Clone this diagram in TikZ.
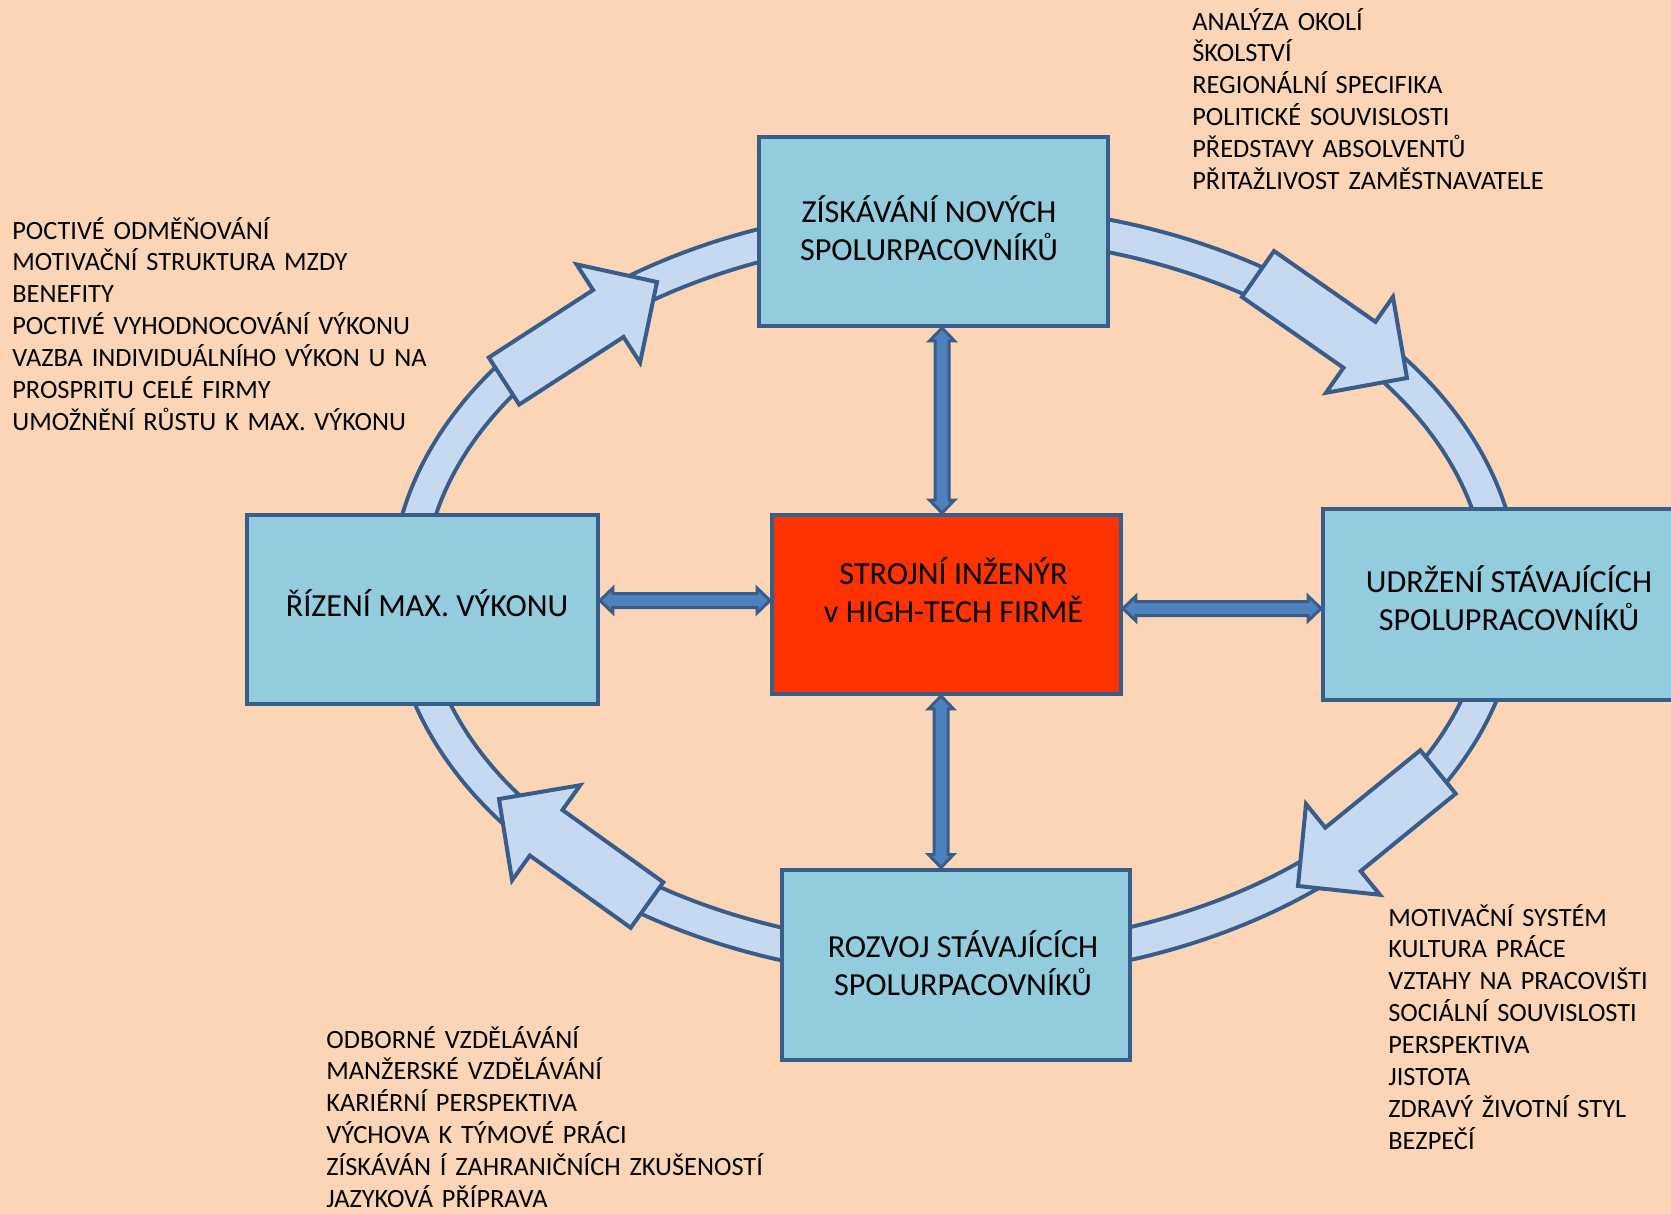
\documentclass[tikz,border=0pt]{standalone}
\usepackage{fontspec}
\setmainfont{Carlito}
\usetikzlibrary{calc}

\definecolor{pagebg}{HTML}{FBD5B5}
\definecolor{boxfill}{HTML}{93CDDD}
\definecolor{boxline}{HTML}{385D8A}
\definecolor{corered}{HTML}{FF3300}
\definecolor{ringfill}{HTML}{C6D9F1}
\definecolor{linkfill}{HTML}{4F81BD}

\newcommand{\boxfont}{\fontsize{18.3}{21.5}\selectfont}
\newcommand{\listfont}{\fontsize{15}{18.2}\selectfont}

% block arrow on the ring: tail centre #1, tip #2
\newcommand{\bigarrow}[2]{%
\filldraw[ringarrow] ($(#1)!0.56cm!90:(#2)$) -- ($(#2)!1.16cm!(#1)!0.56cm!-90:(#1)$)
  -- ($(#2)!1.16cm!(#1)!1.17cm!-90:(#1)$) -- (#2)
  -- ($(#2)!1.16cm!(#1)!1.17cm!90:(#1)$) -- ($(#2)!1.16cm!(#1)!0.56cm!90:(#1)$)
  -- ($(#1)!0.56cm!-90:(#2)$) -- cycle;}

% double headed link between two boxes
\newcommand{\linkarrow}[2]{%
\filldraw[link] (#1) -- ($(#1)!0.26cm!(#2)!0.25cm!90:(#2)$) -- ($(#1)!0.26cm!(#2)!0.14cm!90:(#2)$)
  -- ($(#2)!0.26cm!(#1)!0.14cm!-90:(#1)$) -- ($(#2)!0.26cm!(#1)!0.25cm!-90:(#1)$) -- (#2)
  -- ($(#2)!0.26cm!(#1)!0.25cm!90:(#1)$) -- ($(#2)!0.26cm!(#1)!0.14cm!90:(#1)$)
  -- ($(#1)!0.26cm!(#2)!0.14cm!-90:(#2)$) -- ($(#1)!0.26cm!(#2)!0.25cm!-90:(#2)$) -- cycle;}

\tikzset{
  box/.style={draw=boxline, line width=0.08cm, fill=boxfill, minimum width=6.98cm,
    minimum height=3.8cm, inner sep=0pt},
  corebox/.style={box, fill=corered, minimum height=3.58cm},
  boxtext/.style={align=center, inner sep=0pt, font=\boxfont},
  listtext/.style={anchor=base west, align=left, text width=9.5cm, inner sep=0pt, font=\listfont},
  ringarrow/.style={draw=boxline, fill=ringfill, line width=0.08cm, line join=miter},
  link/.style={draw=boxline, fill=linkfill, line width=0.06cm, line join=miter},
}

\begin{document}
\begin{tikzpicture}[x=0.02cm, y=-0.02cm]
\fill[pagebg] (0,0) rectangle (1671,1214);
\useasboundingbox (0,0) rectangle (1671,1214);

% ring
\draw[boxline, line width=0.72cm] (955,592) ellipse [x radius=10.96cm, y radius=7.42cm];
\draw[ringfill, line width=0.56cm] (955,592) ellipse [x radius=10.96cm, y radius=7.42cm];

\coordinate (r1) at (1258,274); \coordinate (r1t) at (1407,378);
\coordinate (r2) at (1438,772); \coordinate (r2t) at (1298,886);
\coordinate (r3) at (647,905);  \coordinate (r3t) at (499,799);
\coordinate (r4) at (504,381);  \coordinate (r4t) at (657,282);
\bigarrow{r1}{r1t}
\bigarrow{r2}{r2t}
\bigarrow{r3}{r3t}
\bigarrow{r4}{r4t}

% boxes
\node[box, minimum height=3.78cm] (top) at (933.5,231.5) {};
\node[corebox] (core) at (946.5,604.5) {};
\node[box, minimum width=7.02cm] (left) at (422.5,609.5) {};
\node[box, minimum width=7.06cm, minimum height=3.82cm] (right) at (1499.5,604.5) {};
\node[box, minimum height=3.82cm] (bottom) at (956,965) {};

\node[boxtext] (toptext) at (929,228.5) {ZÍSKÁVÁNÍ NOVÝCH\\SPOLURPACOVNÍKŮ};
\node[boxtext] (coretext) at (953.5,590.5) {STROJNÍ INŽENÝR\\v HIGH-TECH FIRMĚ};
\node[boxtext] (lefttext) at (427,603) {ŘÍZENÍ MAX. VÝKONU};
\node[boxtext] (righttext) at (1509,598) {UDRŽENÍ STÁVAJÍCÍCH\\SPOLUPRACOVNÍKŮ};
\node[boxtext] (bottomtext) at (963,963) {ROZVOJ STÁVAJÍCÍCH\\SPOLURPACOVNÍKŮ};

% links to the centre
\coordinate (l1) at ([xshift=0.17cm]top.south);
\coordinate (l1c) at ([xshift=-0.09cm]core.north);
\coordinate (l2) at ([xshift=-0.3cm]bottom.north);
\coordinate (l2c) at ([xshift=-0.11cm]core.south);
\coordinate (l3) at ([yshift=0.18cm]left.east);
\coordinate (l3c) at ([yshift=0.08cm]core.west);
\coordinate (l4) at ([yshift=-0.08cm]right.west);
\coordinate (l4c) at ([yshift=-0.08cm]core.east);
\linkarrow{l1}{l1c}
\linkarrow{l2}{l2c}
\linkarrow{l3}{l3c}
\linkarrow{l4}{l4c}

% lists
\node[listtext] (hire) at (1192,30) {ANALÝZA OKOLÍ\\ŠKOLSTVÍ\\REGIONÁLNÍ SPECIFIKA\\POLITICKÉ SOUVISLOSTI\\PŘEDSTAVY ABSOLVENTŮ\\PŘITAŽLIVOST ZAMĚSTNAVATELE};
\node[listtext] (manage) at (12,239) {POCTIVÉ ODMĚŇOVÁNÍ\\MOTIVAČNÍ STRUKTURA MZDY\\BENEFITY\\POCTIVÉ VYHODNOCOVÁNÍ VÝKONU\\VAZBA INDIVIDUÁLNÍHO VÝKON U NA\\PROSPRITU CELÉ FIRMY\\UMOŽNĚNÍ RŮSTU K MAX. VÝKONU};
\node[listtext] (grow) at (326,1048) {ODBORNÉ VZDĚLÁVÁNÍ\\MANŽERSKÉ VZDĚLÁVÁNÍ\\KARIÉRNÍ PERSPEKTIVA\\VÝCHOVA K TÝMOVÉ PRÁCI\\ZÍSKÁVÁN Í ZAHRANIČNÍCH ZKUŠENOSTÍ\\JAZYKOVÁ PŘÍPRAVA};
\node[listtext] (keep) at (1388,926) {MOTIVAČNÍ SYSTÉM\\KULTURA PRÁCE\\VZTAHY NA PRACOVIŠTI\\SOCIÁLNÍ SOUVISLOSTI\\PERSPEKTIVA\\JISTOTA\\ZDRAVÝ ŽIVOTNÍ STYL\\BEZPEČÍ};
\end{tikzpicture}
\end{document}
